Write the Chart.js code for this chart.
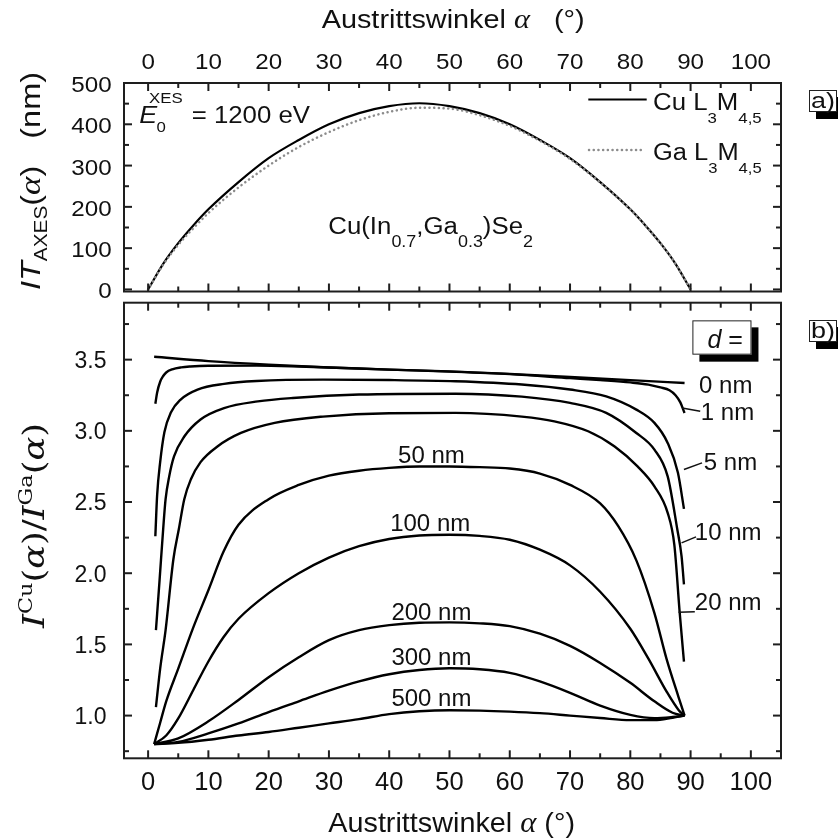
<!DOCTYPE html>
<html>
<head>
<meta charset="utf-8">
<script src="https://cdn.jsdelivr.net/npm/chart.js@4.4.1/dist/chart.umd.min.js"></script>
<style>
html,body{margin:0;padding:0;background:#fff}
#wrap{position:relative;width:838px;height:839px;overflow:hidden}
#wrap canvas{position:absolute;left:0;top:0}
</style>
</head>
<body>
<div id="wrap">
<canvas id="panelA" width="838" height="839"></canvas>
<canvas id="panelB" width="838" height="839"></canvas>
</div>
<script>
// ---- panel a: information depth times attenuation, nm
var angA = [0, 2.5, 5, 7.5, 10, 15, 20, 25, 30, 35, 40, 45, 50, 55, 60, 65, 70, 75, 80, 82.5, 85, 87.5, 90]
var cuA  = [0, 62, 112, 155, 194, 260, 318, 362, 400, 427, 444, 451, 444, 427, 400, 362, 318, 260, 194, 155, 112, 62, 0]
var gaA  = [0, 60, 108, 148, 185, 247, 300, 345, 381, 410, 430, 440, 438, 422, 396, 360, 316, 259, 194, 155, 112, 62, 0]

// ---- panel b: Cu/Ga intensity ratio for several layer thicknesses d
var ang0nm = [1, 10, 20, 30, 40, 50, 60, 70, 80, 89]
var val0nm = [3.52, 3.49, 3.465, 3.445, 3.43, 3.418, 3.40, 3.378, 3.356, 3.336]
var ang1nm = [1.2, 1.5, 2, 2.5, 3, 4, 5.5, 7, 10, 18, 25, 30, 40, 50, 60, 70, 75, 80, 83, 85, 86.5, 87.5, 88.3, 89]
var val1nm = [3.19, 3.27, 3.345, 3.385, 3.41, 3.432, 3.446, 3.452, 3.457, 3.458, 3.452, 3.445, 3.43, 3.416, 3.398, 3.37, 3.356, 3.34, 3.325, 3.305, 3.285, 3.25, 3.2, 3.125]
var ang5nm = [1.2, 1.5, 2, 2.7, 3.8, 5.4, 8.2, 12.6, 18, 29, 40, 51, 62, 70, 76, 81, 84, 86.2, 87.9, 88.9]
var val5nm = [2.26, 2.55, 2.78, 2.99, 3.13, 3.22, 3.29, 3.33, 3.35, 3.36, 3.357, 3.348, 3.325, 3.29, 3.242, 3.149, 3.056, 2.915, 2.705, 2.452]
var ang10nm = [1.3, 1.9, 2.5, 2.9, 3.5, 4.3, 6, 8.7, 12.6, 18.2, 24, 35, 51, 62, 70, 76, 81, 84, 86.2, 87.8, 88.5, 88.9]
var val10nm = [1.60, 1.95, 2.31, 2.52, 2.68, 2.82, 2.96, 3.08, 3.16, 3.207, 3.231, 3.255, 3.261, 3.24, 3.196, 3.126, 2.985, 2.868, 2.68, 2.307, 2.12, 1.921]
var ang20nm = [1.3, 2, 2.9, 4.2, 5.1, 6, 7.1, 8.7, 11.5, 15.4, 21, 29, 40, 51, 62, 67.4, 73, 77.4, 81.2, 84, 86.2, 87.3, 88.2, 88.9]
var val20nm = [1.06, 1.33, 1.6, 2.1, 2.31, 2.52, 2.66, 2.78, 2.89, 2.985, 3.056, 3.10, 3.124, 3.126, 3.10, 3.067, 2.997, 2.89, 2.75, 2.61, 2.424, 2.2, 1.72, 1.379]
var ang50nm = [1, 2, 3, 5, 7.5, 10, 12.5, 15, 20, 25, 30, 35, 40, 45, 50, 55, 60, 65, 70, 75, 78, 81, 84, 86, 88, 89]
var val50nm = [0.80, 0.95, 1.10, 1.33, 1.62, 1.88, 2.15, 2.34, 2.52, 2.62, 2.685, 2.72, 2.74, 2.75, 2.75, 2.745, 2.735, 2.70, 2.62, 2.49, 2.33, 2.09, 1.72, 1.40, 1.13, 1.0]
var ang100nm = [1, 3, 5, 7.5, 10, 12.5, 15, 20, 25, 30, 35, 40, 45, 50, 55, 60, 65, 70, 75, 80, 83, 86, 88, 89]
var val100nm = [0.80, 0.86, 0.98, 1.18, 1.38, 1.55, 1.68, 1.86, 2.00, 2.11, 2.19, 2.24, 2.265, 2.27, 2.262, 2.235, 2.165, 2.055, 1.87, 1.61, 1.40, 1.17, 1.04, 1.0]
var angThick = [1, 5, 10, 15, 20, 25, 30, 35, 40, 45, 50, 55, 60, 65, 70, 75, 80, 84, 87, 89]
var val200nm = [0.80, 0.84, 0.96, 1.11, 1.27, 1.41, 1.53, 1.60, 1.635, 1.652, 1.655, 1.648, 1.628, 1.575, 1.49, 1.37, 1.23, 1.10, 1.02, 1.0]
var val300nm = [0.80, 0.815, 0.875, 0.945, 1.025, 1.10, 1.175, 1.24, 1.29, 1.32, 1.332, 1.325, 1.30, 1.24, 1.16, 1.07, 1.005, 0.982, 0.99, 1.0]
var val500nm = [0.80, 0.808, 0.83, 0.86, 0.885, 0.915, 0.945, 0.975, 1.01, 1.03, 1.037, 1.035, 1.028, 1.017, 1.0, 0.983, 0.968, 0.968, 0.985, 1.0]

// ticks
var xTicks = [0, 10, 20, 30, 40, 50, 60, 70, 80, 90, 100]
var xMinor = [5, 15, 25, 35, 45, 55, 65, 75, 85, 95]
var yTicksA = [0, 100, 200, 300, 400, 500]
var yMinorA = [50, 150, 250, 350, 450]
var yTicksB = [1.0, 1.5, 2.0, 2.5, 3.0, 3.5]
var yMinorB = [0.75, 1.25, 1.75, 2.25, 2.75, 3.25, 3.75]

// curve labels in panel b: [text, angle, ratio, align]
var labelsB = [
  ['0 nm', 91.4, 3.266, 'left'],
  ['1 nm', 91.7, 3.079, 'left'],
  ['5 nm', 92.2, 2.728, 'left'],
  ['10 nm', 90.7, 2.236, 'left'],
  ['20 nm', 90.7, 1.744, 'left'],
  ['50 nm', 47.0, 2.775, 'center'],
  ['100 nm', 46.8, 2.294, 'center'],
  ['200 nm', 47.0, 1.674, 'center'],
  ['300 nm', 47.0, 1.358, 'center'],
  ['500 nm', 47.0, 1.065, 'center']
]
var leadersB = [[88.6, 3.161, 91.6, 3.137], [88.9, 2.728, 91.9, 2.775], [88.5, 2.213, 90.9, 2.255], [88.0, 1.725, 90.7, 1.73]]

var SANS = 'Liberation Sans', SERIF = 'Liberation Serif', MATH = 'DejaVu Serif'
function F(size, style, fam) { return (style ? style + ' ' : '') + size + 'px "' + (fam || SANS) + '"' }

// draw a run of text pieces: [text, font, dy, noAdvance]
function txt(ctx, segs, x, y, o) {
  o = o || {}
  ctx.save()
  var w = 0
  segs.forEach(function (s) {
    ctx.font = s[1]
    s.w = s[3] ? 0 : ctx.measureText(s[0]).width
    w += s.w
  })
  var k = o.width ? o.width / w : (o.sx || 1)
  ctx.translate(x, y)
  if (o.rot) ctx.rotate(o.rot)
  ctx.scale(k, o.sy || 1)
  var cx = o.align === 'center' ? -w / 2 : o.align === 'right' ? -w : 0
  ctx.fillStyle = '#111'
  ctx.textAlign = 'left'
  ctx.textBaseline = 'alphabetic'
  segs.forEach(function (s) {
    ctx.font = s[1]
    ctx.fillText(s[0], cx, s[2] || 0)
    cx += s.w
  })
  ctx.restore()
}

function seg(ctx, x1, y1, x2, y2) {
  ctx.beginPath(); ctx.moveTo(x1, y1); ctx.lineTo(x2, y2); ctx.stroke()
}

function frame(chart, yMaj, yMin) {
  var ctx = chart.ctx, a = chart.chartArea, sx = chart.scales.x, sy = chart.scales.y
  ctx.save()
  ctx.strokeStyle = '#1e1e1e'
  ctx.lineWidth = 2
  ctx.strokeRect(a.left, a.top, a.right - a.left, a.bottom - a.top)
  function xt(v, L) { var p = sx.getPixelForValue(v); seg(ctx, p, a.bottom, p, a.bottom - L); seg(ctx, p, a.top, p, a.top + L) }
  function yt(v, L) { var p = sy.getPixelForValue(v); seg(ctx, a.left, p, a.left + L, p); seg(ctx, a.right, p, a.right - L, p) }
  xTicks.forEach(function (v) { xt(v, 8) })
  xMinor.forEach(function (v) { xt(v, 5) })
  yMaj.forEach(function (v) { yt(v, 8) })
  yMin.forEach(function (v) { yt(v, 5) })
  ctx.restore()
}

function boxLabel(ctx, x, y, w, h, sh) {
  ctx.save()
  ctx.fillStyle = '#000'
  ctx.fillRect(x + sh, y + sh, w, h)
  ctx.fillStyle = '#fff'
  ctx.fillRect(x, y, w, h)
  ctx.strokeStyle = '#222'
  ctx.lineWidth = 1
  ctx.strokeRect(x + 0.5, y + 0.5, w - 1, h - 1)
  ctx.restore()
}

function drawA(chart) {
  var ctx = chart.ctx, sx = chart.scales.x, sy = chart.scales.y
  frame(chart, yTicksA, yMinorA)
  xTicks.forEach(function (v) {
    txt(ctx, [[String(v), F(22)]], sx.getPixelForValue(v), 68.5, { align: 'center', sx: 1.1 })
  })
  yTicksA.forEach(function (v) {
    txt(ctx, [[String(v), F(22)]], 111.7, sy.getPixelForValue(v) + 9, { align: 'right', sx: 1.1 })
  })
  txt(ctx, [['Austrittswinkel ', F(25.5)], ['α', F(27, 'italic', SERIF)], ['   (°)', F(25.5)]],
    321.7, 28.3, { width: 263 })
  txt(ctx, [['I', F(25, 'italic')], ['T', F(25, 'italic')], ['AXES', F(16), 6], ['(', F(25)],
    ['α', F(27, 'italic', SERIF)], [')', F(25)], ['   (nm)', F(25)]],
    40, 181, { align: 'center', rot: -Math.PI / 2, width: 218, sy: 1.12 })

  // annotations
  txt(ctx, [['E', F(24, 'italic')]], 139.3, 123.3, { sx: 1.12 })
  txt(ctx, [['XES', F(15)]], 149, 103, { sx: 1.12 })
  txt(ctx, [['0', F(15)]], 156.5, 132, { sx: 1.12 })
  txt(ctx, [['= 1200 eV', F(23)]], 191.7, 123.3, { width: 118.3 })
  txt(ctx, [['Cu(In', F(23)], ['0.7', F(16), 13], [',Ga', F(23)], ['0.3', F(16), 13], [')Se', F(23)], ['2', F(16), 13]],
    328.3, 234, { width: 204.7 })

  // legend
  ctx.save()
  ctx.lineWidth = 2.2
  ctx.strokeStyle = '#000'
  seg(ctx, 588.3, 99.5, 646.7, 99.5)
  ctx.strokeStyle = '#8c8c8c'
  ctx.lineWidth = 2.5
  ctx.lineCap = 'round'
  ctx.setLineDash([0.1, 4.6])
  seg(ctx, 589, 150, 645, 150)
  ctx.restore()
  txt(ctx, [['Cu L', F(23)], ['3', F(15), 13], ['M', F(23)], ['4,5', F(15), 13]], 653, 110, { width: 108.7 })
  txt(ctx, [['Ga L', F(23)], ['3', F(15), 13], ['M', F(23)], ['4,5', F(15), 13]], 653, 160, { width: 108.7 })

  boxLabel(ctx, 809, 90, 28, 22, 7)
  txt(ctx, [['a)', F(22)]], 811, 107.5, { width: 24 })
}

function drawB(chart) {
  var ctx = chart.ctx, sx = chart.scales.x, sy = chart.scales.y
  frame(chart, yTicksB, yMinorB)
  xTicks.forEach(function (v) {
    txt(ctx, [[String(v), F(25.5)]], sx.getPixelForValue(v), 790, { align: 'center' })
  })
  yTicksB.forEach(function (v) {
    txt(ctx, [[v.toFixed(1), F(23)]], 106.5, sy.getPixelForValue(v) + 8.3, { align: 'right' })
  })
  txt(ctx, [['Austrittswinkel ', F(28)], ['α', F(30, 'italic', SERIF)], [' (°)', F(28)]],
    328.3, 831.7, { width: 246.7 })
  txt(ctx, [['I', F(30, 'italic', MATH)], ['Cu', F(19, '', MATH), -12], ['(', F(30, '', MATH)], ['α', F(30, 'italic', MATH)],
    [')', F(30, '', MATH)], ['/', F(30, '', MATH)], ['I', F(30, 'italic', MATH)], ['Ga', F(19, '', MATH), -12],
    ['(', F(30, '', MATH)], ['α', F(30, 'italic', MATH)], [')', F(30, '', MATH)]],
    44, 525.5, { align: 'center', rot: -Math.PI / 2, width: 205 })

  labelsB.forEach(function (l) {
    txt(ctx, [[l[0], F(24)]], sx.getPixelForValue(l[1]), sy.getPixelForValue(l[2]), { align: l[3] })
  })
  ctx.save()
  ctx.strokeStyle = '#111'
  ctx.lineWidth = 1.5
  leadersB.forEach(function (s) {
    seg(ctx, sx.getPixelForValue(s[0]), sy.getPixelForValue(s[1]), sx.getPixelForValue(s[2]), sy.getPixelForValue(s[3]))
  })
  ctx.restore()

  var bx = sx.getPixelForValue(90.3), by = sy.getPixelForValue(3.776)
  boxLabel(ctx, bx, by, sx.getPixelForValue(100.1) - bx, sy.getPixelForValue(3.535) - by, 7)
  txt(ctx, [['d', F(25, 'italic')], [' =', F(25)]], sx.getPixelForValue(92.8), sy.getPixelForValue(3.582), {})

  boxLabel(ctx, 809, 320, 28, 22, 7)
  txt(ctx, [['b)', F(22)]], 811, 338, { width: 24 })
}

function series(xs, ys, color, width, dash) {
  return {
    data: xs.map(function (x, i) { return { x: x, y: ys[i] } }),
    showLine: true,
    borderColor: color,
    borderWidth: width,
    borderDash: dash || [],
    borderCapStyle: dash ? 'round' : 'butt',
    cubicInterpolationMode: 'monotone',
    pointRadius: 0,
    fill: false
  }
}

function makeChart(id, datasets, pad, xr, yr, deco) {
  return new Chart(document.getElementById(id), {
    type: 'scatter',
    data: { datasets: datasets },
    options: {
      responsive: false,
      animation: false,
      devicePixelRatio: 1,
      layout: { padding: pad },
      plugins: { legend: { display: false }, tooltip: { enabled: false } },
      scales: {
        x: { type: 'linear', min: xr[0], max: xr[1], display: false },
        y: { type: 'linear', min: yr[0], max: yr[1], display: false }
      }
    },
    plugins: [{ id: id + 'Deco', afterDraw: deco }]
  })
}

makeChart('panelA', [
  series(angA, gaA, '#8c8c8c', 2.5, [0.1, 4.6]),
  series(angA, cuA, '#000', 2.2)
], { left: 124, right: 57, top: 83, bottom: 547.5 }, [-4, 105], [-5, 500], drawA)

var curvesB = [
  [ang0nm, val0nm], [ang1nm, val1nm], [ang5nm, val5nm], [ang10nm, val10nm], [ang20nm, val20nm],
  [ang50nm, val50nm], [ang100nm, val100nm], [angThick, val200nm], [angThick, val300nm], [angThick, val500nm]
]
makeChart('panelB', curvesB.map(function (c) { return series(c[0], c[1], '#000', 2.4) }),
  { left: 124, right: 57, top: 302.7, bottom: 80.7 }, [-4, 105], [0.7, 3.9], drawB)
</script>
</body>
</html>
